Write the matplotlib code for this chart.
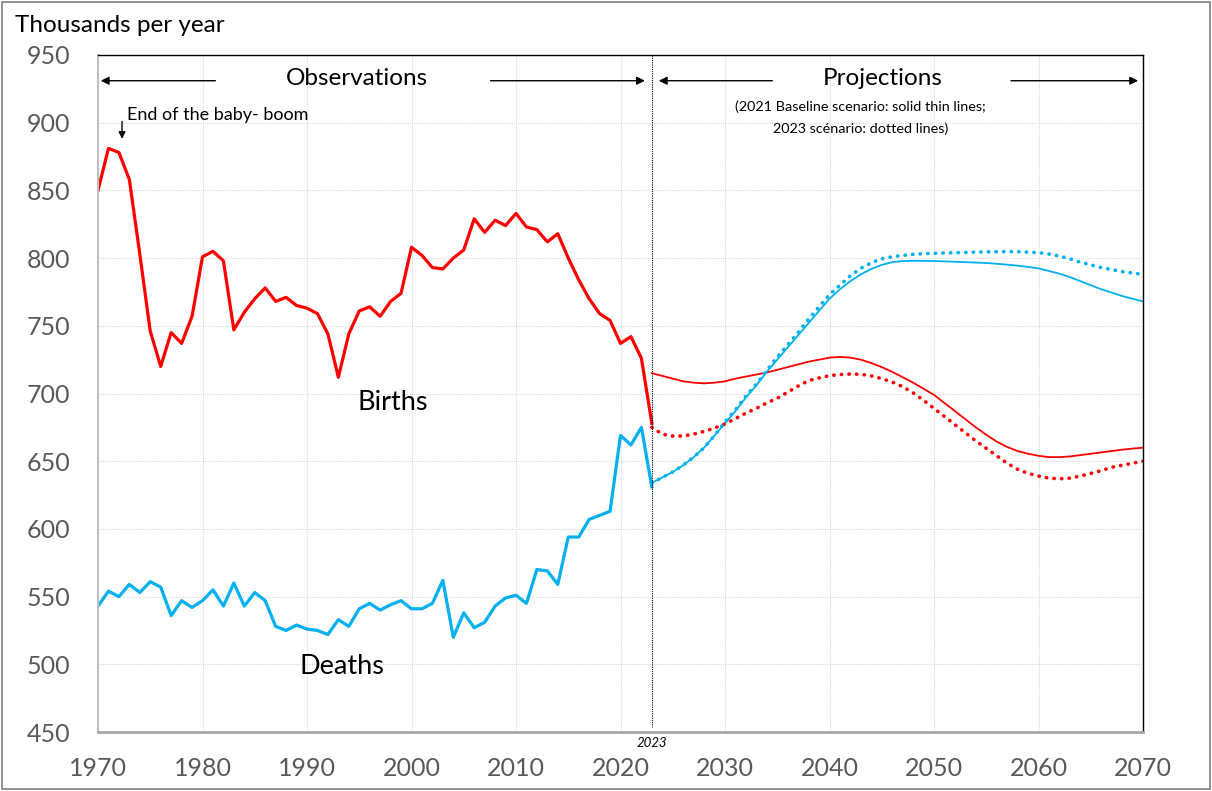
import numpy as np
import matplotlib.pyplot as plt
from matplotlib.patches import Rectangle

plt.rcParams['font.family'] = ['Lato', 'DejaVu Sans']

# observed data (thousands)
obs_years = list(range(1970, 2024))
births_obs = [850, 881, 878, 858, 803, 746, 720, 745, 737, 757,
              801, 805, 798, 747, 760, 770, 778, 768, 771, 765,
              763, 759, 744, 712, 744, 761, 764, 757, 768, 774,
              808, 802, 793, 792, 800, 806, 829, 819, 828, 824,
              833, 823, 821, 812, 818, 800, 784, 770, 759, 754,
              737, 742, 726, 678]
deaths_obs = [543, 554, 550, 559, 553, 561, 557, 536, 547, 542,
              547, 555, 543, 560, 543, 553, 547, 528, 525, 529,
              526, 525, 522, 533, 528, 541, 545, 540, 544, 547,
              541, 541, 545, 562, 520, 538, 527, 531, 543, 549,
              551, 545, 570, 569, 559, 594, 594, 607, 610, 613,
              669, 662, 675, 631]

# projections
proj_years = list(range(2023, 2071))
births_2021 = [715, 713, 711, 709, 708, 707.5, 708, 709, 711, 712.5,
               714, 715.5, 717.5, 719.5, 721.5, 723.5, 725, 726.5, 727, 726.5,
               725, 722.5, 719.5, 716, 712, 708, 703.5, 699, 693, 687,
               681, 675, 669.5, 664.5, 660.5, 657.5, 655.5, 654, 653, 653,
               653.5, 654.5, 655.5, 656.5, 657.5, 658.5, 659.3, 660]
births_2023 = [675, 670, 668.6, 668.6, 670, 672, 674.5, 677.5, 681.5, 685.5,
               689, 693, 696.5, 701, 705.5, 709.5, 711.5, 713.2, 714, 714.4,
               714.2, 713, 711, 708.5, 705, 700.5, 695, 689, 683, 677,
               671, 665, 659.5, 654, 648.5, 644, 641, 639, 637.5, 637,
               637.5, 639, 641, 643, 645.5, 647, 648.5, 650]
deaths_2021 = [634, 638, 642, 647, 653, 660, 669, 678, 687, 697,
               706, 716, 725, 734, 743, 752, 761, 770, 777, 783,
               788, 792, 795, 797, 797.8, 798, 798, 797.8, 797.6, 797.3,
               797, 796.7, 796.4, 795.8, 795.2, 794.4, 793.5, 792.4, 790.5, 788.5,
               786, 783, 780, 777, 774.5, 772, 770, 768]
deaths_2023 = [634, 638, 642, 647, 653, 660, 669, 679, 688, 698,
               707, 717, 727, 736, 745, 755, 764, 773, 780, 787,
               792.5, 796.5, 799.5, 801, 802, 802.8, 803.3, 803.5, 803.8, 804,
               804.2, 804.4, 804.6, 804.7, 804.8, 804.7, 804.4, 804, 803, 801.5,
               799.5, 797, 795, 793, 791.5, 790, 789, 788]

RED = '#ff0000'
BLUE = '#00b0f0'

fig = plt.figure(figsize=(12.12, 7.91), dpi=100)
ax = fig.add_axes([98/1212, 1-732/791, (1143-98)/1212, (732-55)/791])

ax.plot(obs_years, births_obs, color=RED, lw=2.3, solid_joinstyle='round')
ax.plot(obs_years, deaths_obs, color=BLUE, lw=2.3, solid_joinstyle='round')
ax.plot(proj_years, births_2021, color=RED, lw=1.3)
ax.plot(proj_years, deaths_2021, color=BLUE, lw=1.3)
ax.plot(proj_years, births_2023, color=RED, lw=2.6, linestyle=(0, (0.1, 2.0)),
        dash_capstyle='round')
ax.plot(proj_years, deaths_2023, color=BLUE, lw=2.6, linestyle=(0, (0.1, 2.0)),
        dash_capstyle='round')

ax.set_xlim(1970, 2070)
ax.set_ylim(450, 950)
ax.set_xticks(range(1970, 2071, 10))
ax.set_yticks(range(450, 951, 50))
ax.grid(True, color='#d9d9d9', linestyle=(0, (1, 1)), lw=0.8)
ax.set_axisbelow(True)
ax.tick_params(length=0, labelsize=18, colors='#595959')
ax.tick_params(axis='y', pad=20)
ax.tick_params(axis='x', pad=18)

for s in ['top', 'right']:
    ax.spines[s].set_color('black')
    ax.spines[s].set_linewidth(1.0)
ax.spines['left'].set_color('#bfbfbf')
ax.spines['left'].set_linewidth(1.5)
ax.spines['bottom'].set_color('#a6a6a6')
ax.spines['bottom'].set_linewidth(2.0)

# 2023 separator
ax.plot([2023, 2023], [950, 454], color='black', lw=0.8, linestyle=(0, (1, 1)))
ax.text(2023, 442, '2023', fontsize=9.5, style='italic', ha='center', va='center')

# headings and arrows
arr = dict(arrowstyle='-|>', color='black', lw=1.0, mutation_scale=12)
ax.annotate('', xy=(1970, 931), xytext=(1981.5, 931), arrowprops=arr)
ax.annotate('', xy=(2022.6, 931), xytext=(2007.3, 931), arrowprops=arr)
ax.annotate('', xy=(2023.4, 931), xytext=(2034.8, 931), arrowprops=arr)
ax.annotate('', xy=(2069.8, 931), xytext=(2057.1, 931), arrowprops=arr)
ax.text(1994.8, 932.5, 'Observations', fontsize=17.5, ha='center', va='center')
ax.text(2045.1, 932.5, 'Projections', fontsize=17.5, ha='center', va='center')
ax.text(2043.0, 911.5, '(2021 Baseline scenario: solid thin lines;', fontsize=10.4,
        ha='center', va='center')
ax.text(2043.0, 895.5, '2023 scénario: dotted lines)', fontsize=10.4,
        ha='center', va='center')

ax.text(1972.8, 906, 'End of the baby- boom', fontsize=13, ha='left', va='center')
ax.annotate('', xy=(1972.3, 886), xytext=(1972.3, 903),
            arrowprops=dict(arrowstyle='-|>', color='black', lw=1.0, mutation_scale=10))

ax.text(1998.2, 693.5, 'Births', fontsize=19.5, ha='center', va='center')
ax.text(1993.3, 498.5, 'Deaths', fontsize=19.5, ha='center', va='center')

fig.text(15/1212, 1-26/791, 'Thousands per year', fontsize=17.5, ha='left', va='center')

fig.patches.append(Rectangle((0.002, 0.003), 0.996, 0.994, transform=fig.transFigure,
                             fill=False, edgecolor='#7f7f7f', lw=1.2))

fig.savefig('out.png', dpi=100)
